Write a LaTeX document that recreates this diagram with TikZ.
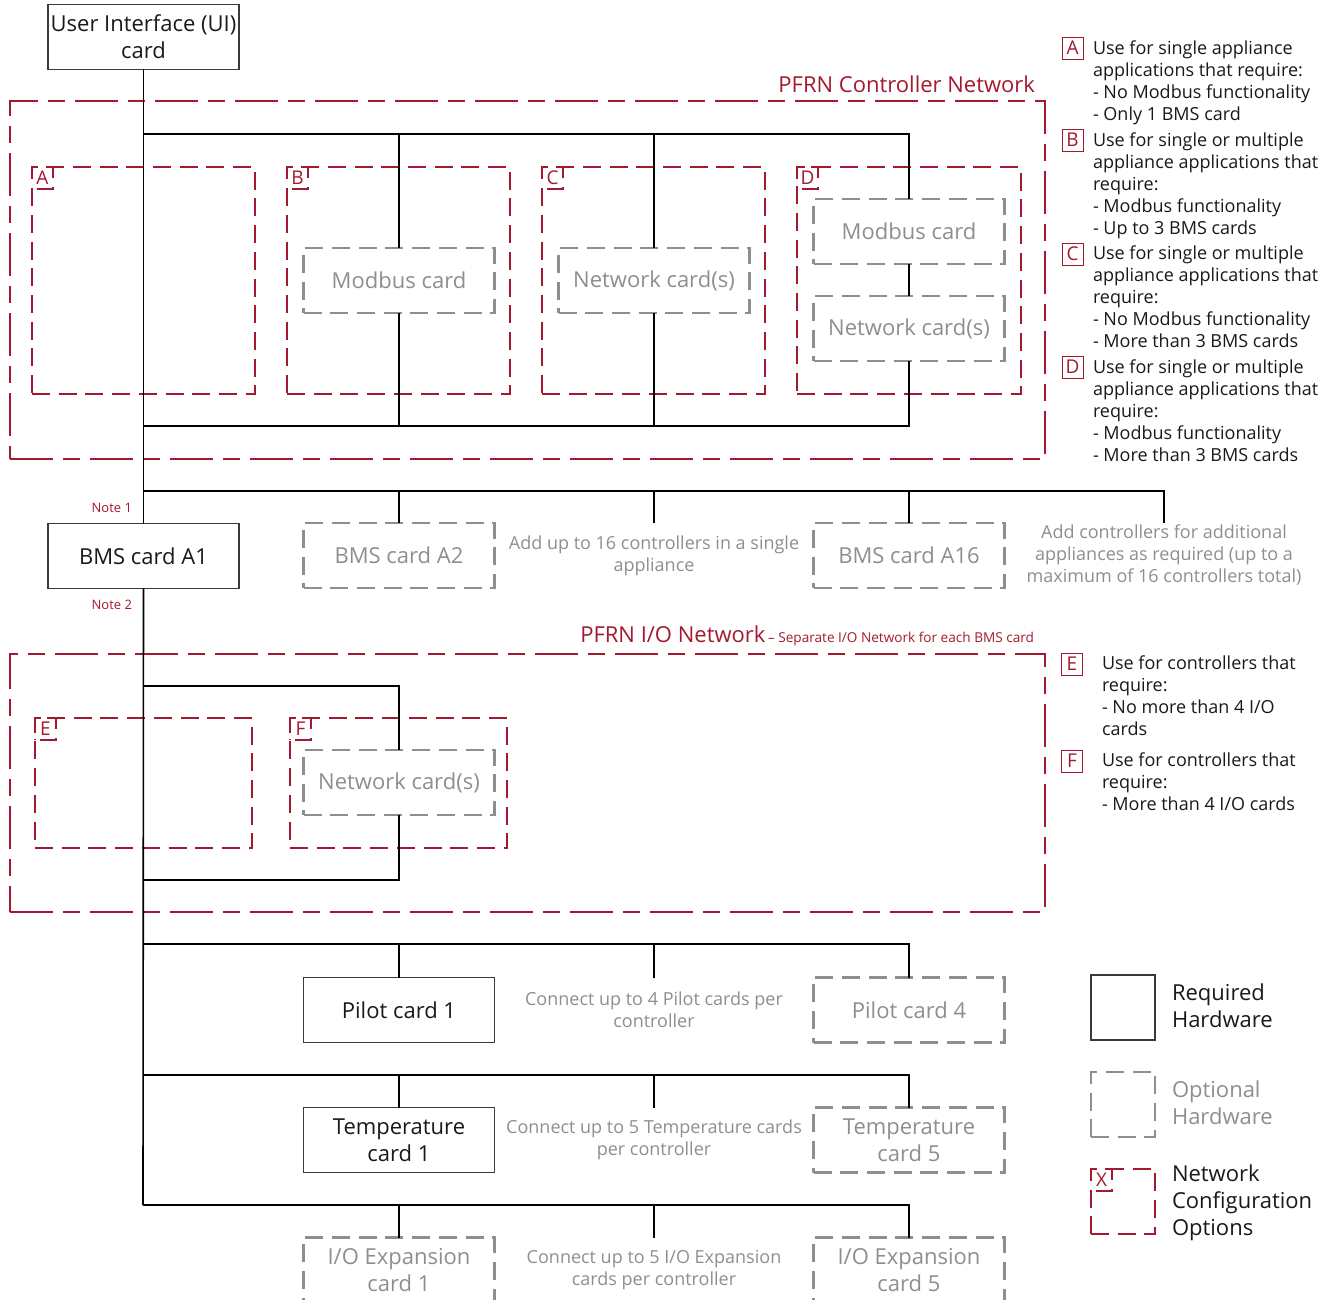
\documentclass[tikz,border=0pt]{standalone}
\usepackage{fontspec}
\setmainfont{Open Sans}
\usepackage{xcolor}
\usepackage{tikz}
\usetikzlibrary{positioning}
\definecolor{pfrnred}{HTML}{A3192F}
\definecolor{optgray}{HTML}{8E8E8E}
\definecolor{reqline}{HTML}{3A3A3A}
\newcommand{\crdf}{\fontsize{22}{27}\selectfont}
\newcommand{\ntf}{\fontsize{18}{22}\selectfont}
\newcommand{\lgf}{\fontsize{18}{22}\selectfont}
\newcommand{\smf}{\fontsize{13}{15}\selectfont}
\newcommand{\tagf}{\fontsize{19}{20}\selectfont}

\begin{document}
\begin{tikzpicture}[x=1pt, y=-1pt, every node/.style={inner sep=0pt, outer sep=0pt},
  wire/.style={draw=black, line width=1.6pt},
  reqcard/.style={draw=reqline, line width=1.2pt, minimum width=191pt, minimum height=65pt, align=center, font=\crdf, text=black!90},
  optcard/.style={draw=optgray, line width=2.3pt, dash pattern=on 18pt off 8.7pt, minimum width=191pt, minimum height=65pt, align=center, font=\crdf, text=optgray},
  optnote/.style={minimum height=65pt, align=center, font=\ntf, text=optgray},
  netbox/.style={draw=pfrnred, line width=2.3pt, dash pattern=on 43pt off 10pt on 17pt off 10pt},
  cfgbox/.style={draw=pfrnred, line width=2.3pt, dash pattern=on 18pt off 8.7pt},
  tagbox/.style={cfgbox, dash phase=21.7pt, minimum width=21pt, minimum height=22pt, font=\tagf, text=pfrnred, anchor=north west},
  keybox/.style={draw=pfrnred, line width=0.9pt, minimum width=21pt, minimum height=22pt, font=\tagf, text=pfrnred},
  keytext/.style={anchor=north west, align=left, font=\lgf, text=black!90}]
\useasboundingbox (0,0) rectangle (1333,1300);
\clip (0,0) rectangle (1333,1300);
% ---- UI card
\node[reqcard] (ui) at (143.5,37) {User Interface (UI)\\card};
% ================= PFRN controller network
\node[netbox, minimum width=1035pt, minimum height=358pt] (ctrlnet) at (527.5,280) {};
\node[anchor=base east, font=\crdf, text=pfrnred] (ctrllbl) at ([xshift=-10pt, yshift=8pt]ctrlnet.north east) {PFRN Controller Network};
% option boxes A..D
\node[cfgbox, minimum width=223pt, minimum height=227pt] (optA) at (143.5,280.5) {};
\node[cfgbox, minimum width=223pt, minimum height=227pt] (optB) at (398.5,280.5) {};
\node[cfgbox, minimum width=223pt, minimum height=227pt] (optC) at (653.5,280.5) {};
\node[cfgbox, minimum width=224pt, minimum height=227pt] (optD) at (909,280.5) {};
\foreach \o in {A,B,C,D}
  \node[tagbox] (tag\o) at (opt\o.north west) {\o};
\node[optcard] (modB) at (399,280.5) {Modbus card};
\node[optcard] (netC) at (654,280.5) {Network card(s)};
\node[optcard] (modD) at (909,231.5) {Modbus card};
\node[optcard] (netD) at (909,328.5) {Network card(s)};
\coordinate (cb1) at (143,134);
\coordinate (cb2) at (143,426);
\draw[wire] (cb1) -| (modB.north);
\draw[wire] (cb1) -| (netC.north);
\draw[wire] (cb1) -| (modD.north);
\draw[wire] (modD.south) -- (netD.north);
\draw[wire] (modB.south) |- (cb2);
\draw[wire] (netC.south) |- (cb2);
\draw[wire] (netD.south) |- (cb2);
% ================= BMS cards
\node[reqcard] (bms1) at (143.5,556) {BMS card A1};
\node[anchor=east, font=\smf, text=pfrnred] (note1) at (132,508) {Note 1};
\node[anchor=east, font=\smf, text=pfrnred] (note2) at (132,605) {Note 2};
\node[optcard] (bms2) at (399,555.5) {BMS card A2};
\node[optnote] (addnote) at (654,555.5) {Add up to 16 controllers in a single\\appliance};
\node[optcard] (bms16) at (909,555.5) {BMS card A16};
\node[optnote] (morenote) at (1164,555.5) {Add controllers for additional\\appliances as required (up to a\\maximum of 16 controllers total)};
\coordinate (bb) at (143,491);
\draw[wire] (ui.south) -- (bms1.north);
\foreach \n in {bms2,addnote,bms16,morenote}
  \draw[wire] (bb) -| (\n.north);
% ================= PFRN I/O network
\node[netbox, minimum width=1035pt, minimum height=258pt] (ionet) at (527.5,783) {};
\node[anchor=base east, text=pfrnred] (iolbl) at ([xshift=-11pt, yshift=12pt]ionet.north east)
  {{\crdf PFRN I/O Network} {\fontsize{13.6}{15}\selectfont -- Separate I/O Network for each BMS card}};
\node[cfgbox, minimum width=217pt, minimum height=130pt] (optE) at (143.5,783) {};
\node[cfgbox, minimum width=217pt, minimum height=130pt] (optF) at (398.5,783) {};
\foreach \o in {E,F}
  \node[tagbox] (tag\o) at (opt\o.north west) {\o};
\node[optcard] (netF) at (399,782.5) {Network card(s)};
\coordinate (ib1) at (143,686);
\coordinate (ib2) at (143,880);
\draw[wire] (ib1) -| (netF.north);
\draw[wire] (netF.south) |- (ib2);
% ================= I/O cards
\node[reqcard] (pilot1) at (399,1010) {Pilot card 1};
\node[optnote] (pilotnote) at (654,1010) {Connect up to 4 Pilot cards per\\controller};
\node[optcard] (pilot4) at (909,1010) {Pilot card 4};
\node[reqcard] (temp1) at (399,1140) {Temperature\\card 1};
\node[optnote] (tempnote) at (654,1140) {Connect up to 5 Temperature cards\\per controller};
\node[optcard] (temp5) at (909,1140) {Temperature\\card 5};
\node[optcard] (iox1) at (399,1270) {I/O Expansion\\card 1};
\node[optnote] (ioxnote) at (654,1270) {Connect up to 5 I/O Expansion\\cards per controller};
\node[optcard] (iox5) at (909,1270) {I/O Expansion\\card 5};
\coordinate (pb) at (143,944);
\coordinate (tb) at (143,1075);
\coordinate (eb) at (143,1205);
\draw[wire] (bms1.south) -- (eb);
\foreach \n in {pilot1,pilotnote,pilot4}
  \draw[wire] (pb) -| (\n.north);
\foreach \n in {temp1,tempnote,temp5}
  \draw[wire] (tb) -| (\n.north);
\foreach \n in {iox1,ioxnote,iox5}
  \draw[wire] (eb) -| (\n.north);
% ================= legend: network options
\node[keybox] (keyA) at (1072.5,48) {A};
\node[keytext] (keyAtxt) at (1093,41) {Use for single appliance\\applications that require:\\- No Modbus functionality\\- Only 1 BMS card};
\node[keybox] (keyB) at (1072.5,140) {B};
\node[keytext] (keyBtxt) at (1093,133) {Use for single or multiple\\appliance applications that\\require:\\- Modbus functionality\\- Up to 3 BMS cards};
\node[keybox] (keyC) at (1072.5,254) {C};
\node[keytext] (keyCtxt) at (1093,246) {Use for single or multiple\\appliance applications that\\require:\\- No Modbus functionality\\- More than 3 BMS cards};
\node[keybox] (keyD) at (1072.5,367) {D};
\node[keytext] (keyDtxt) at (1093,360) {Use for single or multiple\\appliance applications that\\require:\\- Modbus functionality\\- More than 3 BMS cards};
\node[keybox] (keyE) at (1072,664) {E};
\node[keytext] (keyEtxt) at (1102,656) {Use for controllers that\\require:\\- No more than 4 I/O\\cards};
\node[keybox] (keyF) at (1072,761) {F};
\node[keytext] (keyFtxt) at (1102,753) {Use for controllers that\\require:\\- More than 4 I/O cards};
% ================= legend: box kinds
\node[reqcard, minimum width=64pt] (keyreq) at (1123,1007.5) {};
\node[keytext, font=\crdf] (keyreqtxt) at (1172,984) {Required\\Hardware};
\node[optcard, minimum width=64pt] (keyopt) at (1123,1104.5) {};
\node[keytext, font=\crdf, text=optgray] (keyopttxt) at (1172,1081) {Optional\\Hardware};
\node[cfgbox, minimum width=64pt, minimum height=65pt] (keycfg) at (1123,1201.5) {};
\node[tagbox] (tagX) at (keycfg.north west) {X};
\node[keytext, font=\crdf] (keycfgtxt) at (1172,1165) {Network\\Configuration\\Options};
\end{tikzpicture}
\end{document}
